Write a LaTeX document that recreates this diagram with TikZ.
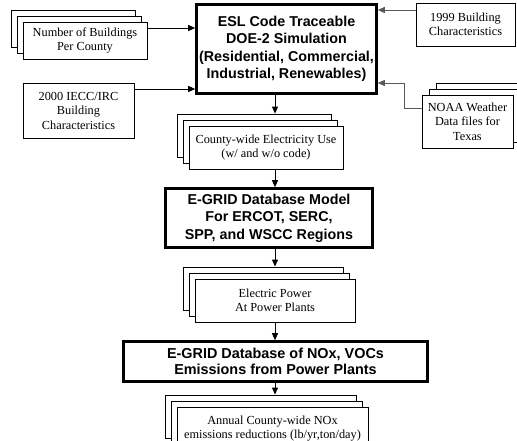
\documentclass[tikz,border=0pt]{standalone}
\usepackage{fontspec}
\setmainfont{Liberation Serif}
\setsansfont{Liberation Sans}
\usetikzlibrary{arrows.meta, shadows}

\begin{document}
\begin{tikzpicture}[
	x=1pt, y=-1pt,
	>={Triangle[length=7pt,width=6pt]},
	% Style for plain input/output sheets
	sheet/.style={rectangle, draw, fill=white, line width=0.8pt, inner sep=0pt, align=center,
		font=\rmfamily\fontsize{12.3}{14.5}\selectfont},
	% Style for stacked sheets (copies behind, up and to the left)
	stackL/.style={sheet,
		copy shadow={shadow xshift=-12pt, shadow yshift=12pt, draw=black, fill=white},
		copy shadow={shadow xshift=-6pt, shadow yshift=6pt, draw=black, fill=white}},
	% Same, copies up and to the right
	stackR/.style={sheet,
		copy shadow={shadow xshift=14pt, shadow yshift=12pt, draw=black, fill=white},
		copy shadow={shadow xshift=7pt, shadow yshift=6pt, draw=black, fill=white}},
	% Style for the model blocks
	block/.style={rectangle, draw, fill=white, line width=2.6pt, inner sep=0pt, align=center,
		font=\sffamily\bfseries\fontsize{14.3}{17.5}\selectfont},
	arr/.style={line width=0.9pt, ->},
	grayarr/.style={arr, draw=black!65}
	]
	\useasboundingbox (0,0) rectangle (517,440);
	
	% 1. Simulation block and its inputs
	\node[block, minimum width=180, minimum height=89] (esl) at (286.5,49)
	{ESL Code Traceable\\DOE-2 Simulation\\(Residential, Commercial,\\Industrial, Renewables)};
	\node[stackL, minimum width=124, minimum height=37] (bldg) at (85,40.5)
	{Number of Buildings\\Per County};
	\node[sheet, minimum width=111, minimum height=55] (iecc) at (78.5,110.5)
	{2000 IECC/IRC\\Building\\Characteristics};
	\node[sheet, minimum width=99, minimum height=43] (bld99) at (465.5,24.5)
	{1999 Building\\Characteristics};
	\node[stackR, minimum width=91, minimum height=53] (noaa) at (467.5,121.5)
	{NOAA Weather\\Data files for\\Texas};
	
	% 2. Chain down the middle
	\coordinate (spine) at (275,0);
	\node[stackL, minimum width=154, minimum height=43] (county) at (266,147.5)
	{County-wide Electricity Use\\(w/ and w/o code)};
	\node[block, minimum width=207, minimum height=59] (egrid) at (269,218)
	{E-GRID Database Model\\For ERCOT, SERC,\\SPP, and WSCC Regions};
	\node[stackL, minimum width=160, minimum height=43] (power) at (275,300.5)
	{Electric Power\\At Power Plants};
	\node[block, minimum width=304, minimum height=40,
		font=\sffamily\bfseries\fontsize{14.4}{16}\selectfont] (emis) at (275.5,361.5)
	{E-GRID Database of NOx, VOCs\\Emissions from Power Plants};
	\node[stackL, minimum width=191, minimum height=43] (annual) at (272.5,428.5)
	{Annual County-wide NOx\\emissions reductions (lb/yr,ton/day)};
	
	% 3. Inputs into the simulation
	\draw[arr] ([yshift=12.5pt]bldg.east) -- ([yshift=12.5pt]bldg.east -| esl.west);
	\draw[arr] ([yshift=21.5pt]iecc.east) -- ([yshift=21.5pt]iecc.east -| esl.west);
	\draw[grayarr] ([yshift=14.5pt]bld99.west) -- ([yshift=14.5pt]bld99.west -| esl.east);
	\coordinate (noaabend) at (404,83);
	\draw[grayarr] ([yshift=13.5pt]noaa.west) -| (noaabend) -- (noaabend -| esl.east);
	
	% 4. Main flow
	\draw[arr] (esl.south -| spine) -- ([yshift=12pt]county.north -| spine);
	\draw[arr] (county.south -| spine) -- (egrid.north -| spine);
	\draw[arr] (egrid.south -| spine) -- ([yshift=12pt]power.north -| spine);
	\draw[arr] (power.south -| spine) -- (emis.north -| spine);
	\draw[arr] (emis.south -| spine) -- ([yshift=12pt]annual.north -| spine);
	
\end{tikzpicture}
\end{document}
